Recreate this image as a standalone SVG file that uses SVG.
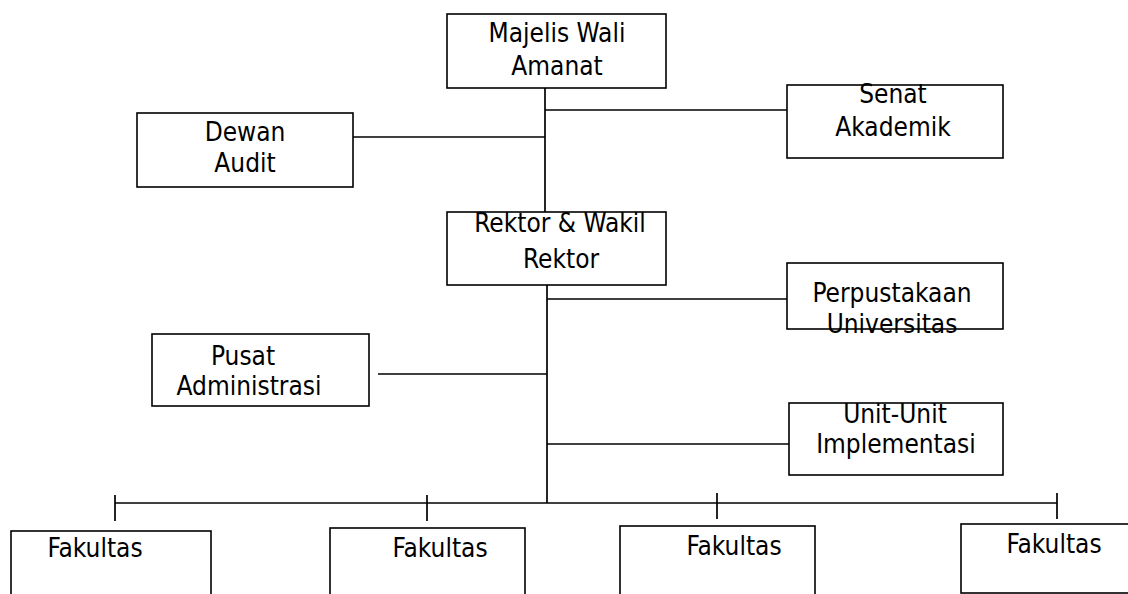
<svg xmlns="http://www.w3.org/2000/svg" width="1128" height="594" viewBox="0 0 1128 594">
<style>
.box{fill:#fff;stroke:#000;stroke-width:1.6}
.ln{fill:none;stroke:#000;stroke-width:1.7}
text{font-family:"DejaVu Sans Condensed","DejaVu Sans",Tahoma,sans-serif;font-size:26px;fill:#000;text-anchor:middle}
</style>
<rect width="1128" height="594" fill="#fff"/>
<g id="connectors">
<path class="ln" d="M545 88V212"/>
<path class="ln" d="M545 110H787"/>
<path class="ln" d="M353 137H545"/>
<path class="ln" d="M547 285V503"/>
<path class="ln" d="M547 299H787"/>
<path class="ln" d="M378 374H547"/>
<path class="ln" d="M547 444H789"/>
<path class="ln" d="M115 503H1057"/>
<path class="ln" d="M115 495V521M427 495V521M717 493V519M1057 493V519"/>
</g>
<g id="majelis"><rect class="box" x="447" y="14" width="219" height="74"/><text x="557" y="42">Majelis Wali</text><text x="557" y="75">Amanat</text></g>
<g id="senat"><rect class="box" x="787" y="85" width="216" height="73"/><text x="893" y="103">Senat</text><text x="893" y="136">Akademik</text></g>
<g id="dewan"><rect class="box" x="137" y="113" width="216" height="74"/><text x="245" y="141">Dewan</text><text x="245" y="172">Audit</text></g>
<g id="rektor"><rect class="box" x="447" y="212" width="219" height="73"/><text x="560" y="232">Rektor &amp; Wakil</text><text x="561" y="268">Rektor</text></g>
<g id="perpustakaan"><rect class="box" x="787" y="263" width="216" height="66"/><text x="892" y="302">Perpustakaan</text><text x="892" y="333">Universitas</text></g>
<g id="pusat"><rect class="box" x="152" y="334" width="217" height="72"/><text x="243" y="365">Pusat</text><text x="249" y="395">Administrasi</text></g>
<g id="unit"><rect class="box" x="789" y="403" width="214" height="72"/><text x="895" y="423">Unit-Unit</text><text x="896" y="453">Implementasi</text></g>
<g id="fakultas1"><rect class="box" x="11" y="531" width="200" height="80"/><text x="95" y="557">Fakultas</text></g>
<g id="fakultas2"><rect class="box" x="330" y="528" width="195" height="80"/><text x="440" y="557">Fakultas</text></g>
<g id="fakultas3"><rect class="box" x="620" y="526" width="195" height="80"/><text x="734" y="555">Fakultas</text></g>
<g id="fakultas4"><rect class="box" x="961" y="524" width="200" height="69"/><text x="1054" y="553">Fakultas</text></g>
</svg>
